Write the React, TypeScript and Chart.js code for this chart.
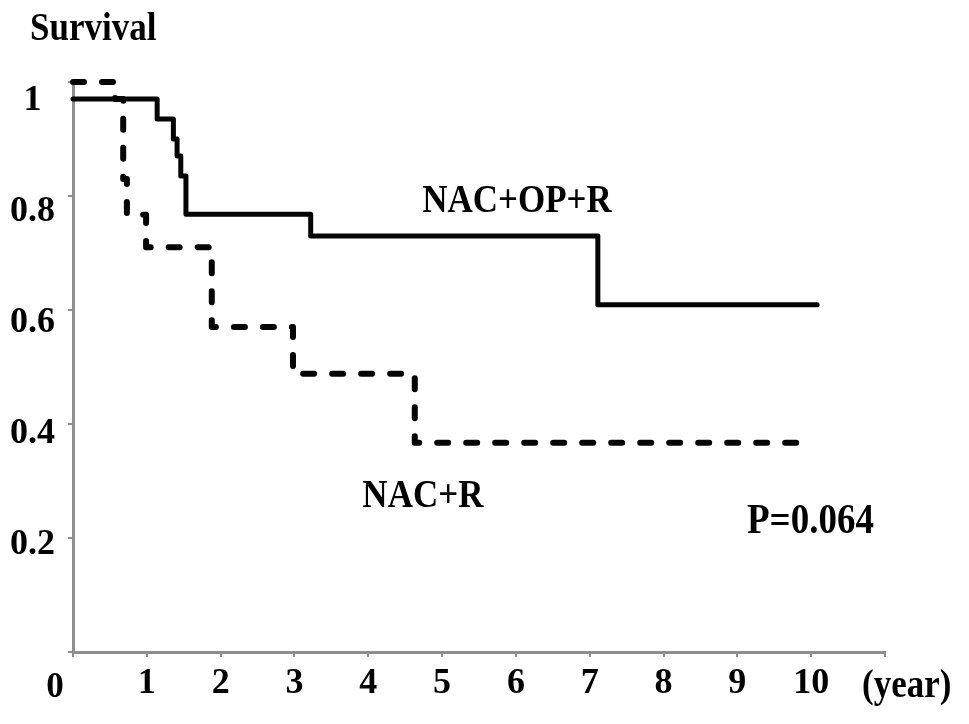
import { useEffect, useRef } from 'react';
import { Chart, registerables } from 'chart.js';

Chart.register(...registerables);

// Kaplan-Meier step data (time in years, survival proportion after each event)
const solidTimes = [0, 1.14, 1.36, 1.41, 1.46, 1.53, 3.22, 7.11, 10.08];
const solidSurvival = [0.97, 0.935, 0.9, 0.87, 0.835, 0.768, 0.73, 0.609, 0.609];
const dashedTimes = [0, 0.57, 0.68, 0.73, 0.99, 1.88, 2.98, 4.63, 9.92];
const dashedSurvival = [1.0, 0.97, 0.83, 0.767, 0.71, 0.57, 0.488, 0.367, 0.367];

const xTickValues = [0, 1, 2, 3, 4, 5, 6, 7, 8, 9, 10, 11];
const xTickLabels = ['0', '1', '2', '3', '4', '5', '6', '7', '8', '9', '10', ''];
const yTickValues = [0.2, 0.4, 0.6, 0.8, 1];
const yTickLabels = ['0.2', '0.4', '0.6', '0.8', '1'];

const seriesNames = ['NAC+OP+R', 'NAC+R'];
const seriesLabelPos = [
  { t: 4.73, s: 0.772 },
  { t: 3.92, s: 0.254 },
];
const pValueText = 'P=0.064';
const pValuePos = { t: 9.13, s: 0.209 };
const yAxisTitle = 'Survival';
const xAxisUnit = '(year)';

const FONT = '"Liberation Serif", "Times New Roman", serif';
const AXIS_GRAY = '#8e8e8e';

export default function App() {
  const ref = useRef<HTMLCanvasElement | null>(null);

  useEffect(() => {
    if (!ref.current) return;

    const stretchText = (ctx: CanvasRenderingContext2D, text: string, px: number, py: number) => {
      ctx.save();
      ctx.translate(px, py);
      ctx.scale(1, 1.15);
      ctx.fillText(text, 0, 0);
      ctx.restore();
    };

    const annotations = {
      id: 'annotations',
      afterDatasetsDraw(chart: any) {
        const { ctx, scales } = chart;
        const x = scales.x;
        const y = scales.y;
        ctx.save();
        ctx.fillStyle = '#000';
        ctx.textBaseline = 'alphabetic';
        ctx.font = `bold 35px ${FONT}`;
        ctx.textAlign = 'left';
        stretchText(ctx, yAxisTitle, 30, 40);
        seriesNames.forEach((name, i) => {
          const p = seriesLabelPos[i];
          stretchText(ctx, name, x.getPixelForValue(p.t), y.getPixelForValue(p.s));
        });
        ctx.font = `bold 37px ${FONT}`;
        stretchText(ctx, pValueText, x.getPixelForValue(pValuePos.t), y.getPixelForValue(pValuePos.s));
        ctx.font = `bold 35px ${FONT}`;
        stretchText(ctx, xAxisUnit, 862, 697);
        ctx.textAlign = 'center';
        ctx.fillText(xTickLabels[0], 55, 697);
        ctx.restore();
      },
    };

    const chart = new Chart(ref.current, {
      type: 'line',
      data: {
        datasets: [
          {
            label: seriesNames[0],
            data: solidTimes.map((t, i) => ({ x: t, y: solidSurvival[i] })),
            borderColor: '#050505',
            borderWidth: 5,
            stepped: 'before',
            pointRadius: 0,
            fill: false,
            borderCapStyle: 'round',
            borderJoinStyle: 'round',
            clip: false,
          } as any,
          {
            label: seriesNames[1],
            data: dashedTimes.map((t, i) => ({ x: t, y: dashedSurvival[i] })),
            borderColor: '#050505',
            borderWidth: 6,
            borderDash: [11, 18],
            stepped: 'before',
            pointRadius: 0,
            fill: false,
            borderCapStyle: 'round',
            borderJoinStyle: 'round',
            clip: false,
          } as any,
        ],
      },
      options: {
        animation: false,
        responsive: false,
        maintainAspectRatio: false,
        layout: { padding: { top: 82, right: 84, left: 0, bottom: 0 } },
        plugins: {
          legend: { display: false },
          tooltip: { enabled: false },
        },
        scales: {
          x: {
            type: 'linear',
            min: 0,
            max: 11,
            afterBuildTicks: (s: any) => {
              s.ticks = xTickValues.map((v) => ({ value: v }));
            },
            afterFit: (s: any) => {
              s.height = 72;
            },
            ticks: {
              callback: (v: any) => {
                const i = xTickValues.indexOf(Number(v));
                return i <= 0 ? '' : xTickLabels[i];
              },
              font: { family: FONT, size: 36, weight: 'bold' },
              color: '#000',
              padding: 5,
              maxRotation: 0,
              autoSkip: false,
            },
            grid: {
              display: true,
              drawOnChartArea: false,
              drawTicks: true,
              tickLength: 5,
              color: AXIS_GRAY,
              lineWidth: 2,
            },
            border: { display: true, color: AXIS_GRAY, width: 3 },
          },
          y: {
            type: 'linear',
            position: 'left',
            weight: 0,
            min: 0,
            max: 1,
            afterBuildTicks: (s: any) => {
              s.ticks = [0, ...yTickValues].map((v) => ({ value: v }));
            },
            afterFit: (s: any) => {
              s.width = 6;
            },
            ticks: { display: false },
            grid: {
              display: true,
              drawOnChartArea: false,
              drawTicks: true,
              tickLength: 5,
              color: AXIS_GRAY,
              lineWidth: 2,
            },
            border: { display: true, color: AXIS_GRAY, width: 3 },
          },
          yLabels: {
            type: 'linear',
            position: 'left',
            weight: 1,
            min: 0.0072,
            max: 1.0342,
            afterBuildTicks: (s: any) => {
              s.ticks = yTickValues.map((v) => ({ value: v }));
            },
            afterFit: (s: any) => {
              s.width = 67;
            },
            ticks: {
              callback: (v: any) => {
                const i = yTickValues.indexOf(Number(v));
                return i < 0 ? '' : yTickLabels[i];
              },
              font: { family: FONT, size: 36, weight: 'bold' },
              color: '#000',
              padding: 12,
              crossAlign: 'center',
            },
            grid: { display: false, drawTicks: false },
            border: { display: false },
          },
        },
      } as any,
      plugins: [annotations],
    });

    return () => chart.destroy();
  }, []);

  return (
    <div style={{ position: 'absolute', left: 0, top: 0, width: 969, height: 724, background: '#fff' }}>
      <canvas ref={ref} width={969} height={724} style={{ display: 'block' }} />
    </div>
  );
}
